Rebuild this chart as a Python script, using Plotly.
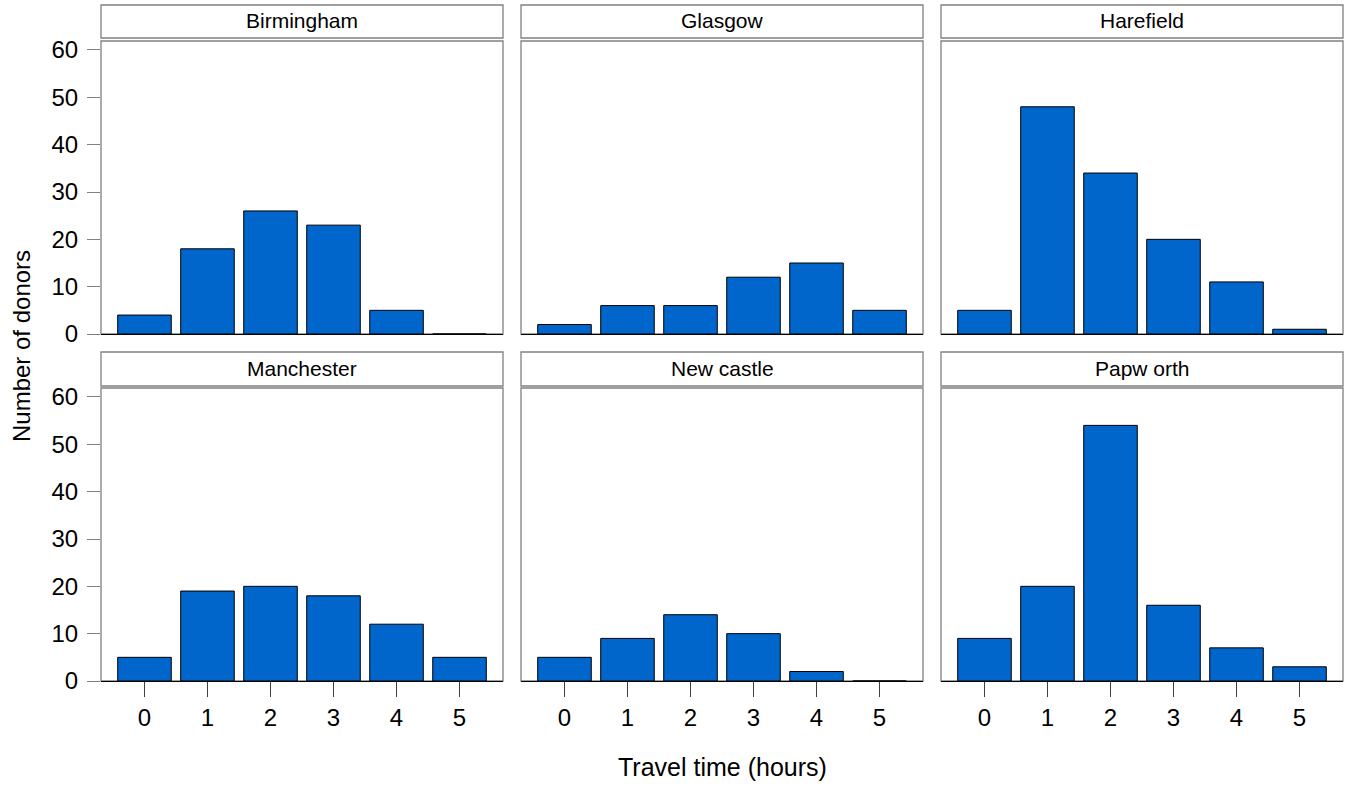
import plotly.graph_objects as go

# ---- data ----
hours = [0, 1, 2, 3, 4, 5]
centres = ["Birmingham", "Glasgow", "Harefield", "Manchester", "New castle", "Papw orth"]
birmingham = [4, 18, 26, 23, 5, 0]
glasgow = [2, 6, 6, 12, 15, 5]
harefield = [5, 48, 34, 20, 11, 1]
manchester = [5, 19, 20, 18, 12, 5]
newcastle = [5, 9, 14, 10, 2, 0]
papworth = [9, 20, 54, 16, 7, 3]
series = [birmingham, glasgow, harefield, manchester, newcastle, papworth]
y_ticks = [0, 10, 20, 30, 40, 50, 60]
x_title = "Travel time (hours)"
y_title = "Number of donors"

# ---- layout geometry (pixels) ----
W, H = 1346, 786
col_px = [(101, 503), (521, 923), (941, 1343)]
row_px = [(41, 334), (388, 681)]
strip_px = [(5, 38), (352, 386)]

FONT = "Liberation Sans, Arial, sans-serif"
BAR = "#0066CC"
FRAME = "#808080"


def fx(p):
    return p / W


def fy(p):
    return 1 - p / H


fig = go.Figure()
shapes = []
annotations = []

for i, (name, vals) in enumerate(zip(centres, series)):
    r, c = divmod(i, 3)
    n = i + 1
    xa = "x" if n == 1 else f"x{n}"
    ya = "y" if n == 1 else f"y{n}"
    fig.add_trace(go.Bar(
        x=hours, y=vals, width=0.85,
        marker=dict(color=BAR, line=dict(color="#000000", width=1)),
        xaxis=xa, yaxis=ya, showlegend=False, hoverinfo="x+y",
    ))
    x0, x1 = col_px[c]
    y0, y1 = row_px[r]
    xkey = "xaxis" if n == 1 else f"xaxis{n}"
    ykey = "yaxis" if n == 1 else f"yaxis{n}"
    bottom = r == 1
    left = c == 0
    fig.update_layout(**{
        xkey: dict(
            domain=[fx(x0), fx(x1)], anchor=ya, range=[-0.69, 5.69],
            tickmode="array", tickvals=hours,
            ticktext=[str(h) for h in hours] if bottom else [""] * 6,
            showticklabels=bottom, automargin=False,
            ticks="outside" if bottom else "", ticklen=15, tickwidth=1,
            tickcolor="#404040",
            showline=True, linecolor="#000000", linewidth=1.3, mirror=False,
            showgrid=False, zeroline=False,
            tickfont=dict(family=FONT, size=24, color="#000000"),
        ),
        ykey: dict(
            domain=[fy(y1), fy(y0)], anchor=xa, range=[0, 61.9],
            tickmode="array", tickvals=y_ticks,
            showticklabels=left, automargin=False,
            ticks="outside" if left else "", ticklen=13, tickwidth=1.3,
            tickcolor=FRAME, ticklabelstandoff=4,
            showline=False, showgrid=False, zeroline=False,
            tickfont=dict(family=FONT, size=24, color="#000000"),
        ),
    })
    # panel frame
    shapes.append(dict(type="rect", xref="paper", yref="paper",
                       x0=fx(x0), x1=fx(x1), y0=fy(y1), y1=fy(y0),
                       line=dict(color=FRAME, width=1.3), layer="below"))
    # strip
    s0, s1 = strip_px[r]
    shapes.append(dict(type="rect", xref="paper", yref="paper",
                       x0=fx(x0), x1=fx(x1), y0=fy(s1), y1=fy(s0),
                       line=dict(color=FRAME, width=1.3), fillcolor="#FFFFFF",
                       layer="below"))
    annotations.append(dict(text=name, xref="paper", yref="paper",
                            x=fx((x0 + x1) / 2), y=fy((s0 + s1) / 2 - 1),
                            xanchor="center", yanchor="middle", showarrow=False,
                            font=dict(family=FONT, size=21, color="#000000")))

annotations.append(dict(text=x_title, xref="paper", yref="paper",
                        x=fx(722), y=fy(767), xanchor="center", yanchor="middle",
                        showarrow=False,
                        font=dict(family=FONT, size=25, color="#000000")))
annotations.append(dict(text=y_title, xref="paper", yref="paper",
                        x=fx(21), y=fy(346), xanchor="center", yanchor="middle",
                        textangle=-90, showarrow=False,
                        font=dict(family=FONT, size=24, color="#000000")))

fig.update_layout(
    template="none",
    width=W, height=H,
    margin=dict(l=0, r=0, t=0, b=0, pad=0, autoexpand=False),
    paper_bgcolor="#FFFFFF", plot_bgcolor="rgba(0,0,0,0)",
    shapes=shapes, annotations=annotations,
    font=dict(family=FONT, color="#000000"),
)

fig.write_html(
    "out.html",
    config={"displayModeBar": False},
    post_script="document.body.style.margin='0';document.body.style.overflow='hidden';",
)
